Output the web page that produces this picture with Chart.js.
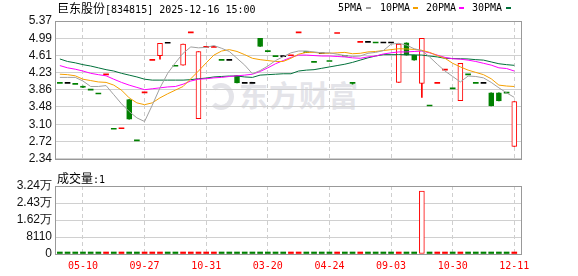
<!DOCTYPE html>
<html>
<head>
<meta charset="utf-8">
<script src="https://cdn.jsdelivr.net/npm/chart.js@4.4.1/dist/chart.umd.min.js"></script>
<style>
  body { margin: 0; background: #fff; }
  #wrap { position: relative; width: 578px; height: 276px; overflow: hidden; }
  canvas { position: absolute; left: 0; top: 0; }
  .mono { font-family: "DejaVu Sans Mono", monospace; font-size: 10px; }
  .cjk { font-family: "Noto Sans CJK SC", sans-serif; font-size: 12px; }
  .txt { position: absolute; white-space: nowrap; color: #000; line-height: 16px; }
  .sw { position: absolute; width: 5px; height: 2px; top: 7px; }
  #mark { position: absolute; left: 239px; top: 80px; font-family: "Noto Sans CJK SC", sans-serif;
          font-weight: bold; font-size: 29px; line-height: 29px; letter-spacing: 1px; color: #e4e4e9;
          white-space: nowrap; }
  #logo { position: absolute; left: 208px; top: 83px; width: 16px; height: 17px;
          border: 5px solid #e4e4e9; border-left-color: transparent; border-radius: 50%; }
</style>
</head>
<body>
<div id="wrap">
  <div id="logo"></div>
  <div id="mark">东方财富</div>
  <canvas id="main" width="578" height="170"></canvas>
  <canvas id="vol" width="578" height="276"></canvas>
  <div class="txt" style="left:57px;top:0px"><span class="cjk">巨东股份</span><span class="mono">[834815] 2025-12-16 15:00</span></div>
  <div class="txt mono" style="left:338px;top:0px">5PMA</div>
  <div class="sw" style="left:366px;background:#a0a0a0"></div>
  <div class="txt mono" style="left:380px;top:0px">10PMA</div>
  <div class="sw" style="left:413px;background:#f5a000"></div>
  <div class="txt mono" style="left:426px;top:0px">20PMA</div>
  <div class="sw" style="left:459px;background:#ff00ff"></div>
  <div class="txt mono" style="left:472px;top:0px">30PMA</div>
  <div class="sw" style="left:506px;background:#00703a"></div>
  <div class="txt" style="left:57px;top:170px"><span class="cjk">成交量</span><span class="mono">:1</span></div>
</div>
<script>
// daily candles
const open = [4.00, 4.00, 3.975, 3.94, 3.85, 3.765, 4.185, 2.99, 3.00, 3.64, 2.735, 3.79, 4.505, 4.61, 4.88, 4.375, 4.40, 5.11, 3.22, 4.79,
  4.79, 4.505, 4.505, 4.17, 4.00, 4.00, 4.99, 4.695, 4.585, 4.585, 4.605, 5.11, 4.675, 4.46, 4.65, 4.48, 5.095, 4.595, 4.00, 4.90,
  4.90, 4.886, 4.886, 4.886, 4.02, 4.89, 4.62, 4.00, 3.50, 4.00, 4.29, 3.876, 3.62, 4.185, 4.00, 4.00, 3.79, 3.79, 3.785, 2.61];
const close = [4.00, 4.00, 3.975, 3.91, 3.85, 3.765, 4.185, 2.99, 3.00, 3.21, 2.735, 3.79, 4.505, 4.88, 4.88, 4.375, 4.86, 5.11, 4.70, 4.79,
  4.79, 4.505, 4.505, 4.01, 4.00, 4.00, 4.81, 4.695, 4.585, 4.585, 4.605, 5.11, 4.675, 4.46, 4.65, 4.48, 5.095, 4.595, 4.00, 4.90,
  4.90, 4.886, 4.886, 4.886, 4.86, 4.62, 4.51, 4.99, 3.50, 4.00, 4.29, 3.876, 4.44, 4.185, 4.00, 4.00, 3.50, 3.61, 3.785, 3.60];
const high = [4.00, 4.00, 3.975, 3.94, 3.85, 3.765, 4.185, 2.99, 3.00, 3.64, 2.735, 3.79, 4.505, 4.88, 4.88, 4.375, 4.86, 5.11, 4.70, 4.79,
  4.79, 4.505, 4.505, 4.17, 4.00, 4.00, 4.99, 4.695, 4.585, 4.585, 4.605, 5.11, 4.675, 4.46, 4.65, 4.48, 5.095, 4.595, 4.02, 4.90,
  4.90, 4.886, 4.886, 4.886, 4.86, 4.89, 4.62, 4.99, 3.50, 4.00, 4.29, 3.876, 4.44, 4.185, 4.00, 4.00, 3.79, 3.79, 3.785, 3.60];
const low = [4.00, 4.00, 3.975, 3.91, 3.85, 3.765, 4.185, 2.99, 3.00, 3.21, 2.735, 3.79, 4.505, 4.53, 4.88, 4.375, 4.40, 5.11, 3.22, 4.79,
  4.79, 4.505, 4.505, 4.01, 4.00, 4.00, 4.81, 4.695, 4.585, 4.585, 4.605, 5.11, 4.675, 4.46, 4.65, 4.48, 5.095, 4.595, 3.98, 4.90,
  4.90, 4.886, 4.886, 4.886, 4.02, 4.62, 4.51, 3.69, 3.50, 4.00, 4.29, 3.876, 3.62, 4.185, 4.00, 4.00, 3.50, 3.61, 3.785, 2.61];
// u = up (red), d = down (green), f = flat (black)
const dir = ["d", "f", "d", "d", "d", "d", "u", "d", "u", "d", "d", "u", "u", "u", "f", "d", "u", "u", "u", "u",
  "u", "d", "f", "d", "f", "f", "d", "d", "d", "f", "u", "u", "d", "d", "f", "d", "u", "d", "d", "u",
  "f", "d", "f", "f", "u", "d", "d", "u", "d", "u", "u", "d", "u", "d", "d", "f", "d", "d", "d", "u"];
const volume = [1, 1, 1, 1, 1, 1, 1, 1, 1, 1, 1, 1, 1, 1, 1, 1, 1, 1, 1, 1,
  1, 1, 1, 1, 1, 1, 1, 1, 1, 1, 1, 1, 1, 1, 1, 1, 1, 1, 1, 1,
  1, 1, 1, 1, 1, 1, 1, 30050, 1, 1, 1, 1, 1, 1, 1, 1, 1, 1, 1, 1];

// moving averages as drawn
const ma5 = [4.13, 4.13, 4.13, 4.05, 3.93, 3.93, 3.95, 3.75, 3.55, 3.38, 3.24, 3.16, 3.52, 3.90, 4.22, 4.45, 4.66, 4.80, 4.78, 4.79,
  4.83, 4.77, 4.70, 4.55, 4.40, 4.21, 4.28, 4.38, 4.50, 4.585, 4.67, 4.71, 4.71, 4.69, 4.67, 4.67, 4.64, 4.61, 4.59, 4.60,
  4.66, 4.68, 4.72, 4.86, 4.88, 4.84, 4.76, 4.72, 4.58, 4.42, 4.27, 4.15, 4.03, 4.16, 4.15, 4.12, 4.02, 3.90, 3.79, 3.69];
const ma10 = [4.20, 4.19, 4.165, 4.09, 4.06, 4.03, 4.02, 3.96, 3.85, 3.68, 3.57, 3.53, 3.57, 3.68, 3.77, 3.85, 3.93, 4.10, 4.27, 4.45,
  4.62, 4.71, 4.74, 4.70, 4.63, 4.55, 4.52, 4.50, 4.48, 4.48, 4.55, 4.64, 4.68, 4.68, 4.66, 4.66, 4.67, 4.68, 4.65, 4.66,
  4.69, 4.70, 4.72, 4.74, 4.76, 4.755, 4.745, 4.725, 4.68, 4.61, 4.55, 4.44, 4.36, 4.29, 4.24, 4.19, 4.10, 3.96, 3.94, 3.93];
const ma20 = [4.39, 4.34, 4.31, 4.27, 4.22, 4.19, 4.165, 4.09, 4.02, 3.96, 3.91, 3.86, 3.88, 3.90, 3.92, 3.93, 3.98, 4.05, 4.09, 4.10,
  4.12, 4.13, 4.15, 4.165, 4.18, 4.20, 4.26, 4.34, 4.43, 4.50, 4.57, 4.62, 4.62, 4.61, 4.60, 4.60, 4.59, 4.58, 4.56, 4.55,
  4.58, 4.60, 4.645, 4.67, 4.69, 4.69, 4.70, 4.71, 4.67, 4.62, 4.57, 4.54, 4.53, 4.51, 4.48, 4.44, 4.40, 4.34, 4.325, 4.27];
const ma30 = [4.535, 4.48, 4.45, 4.41, 4.38, 4.34, 4.30, 4.27, 4.22, 4.18, 4.14, 4.09, 4.07, 4.07, 4.07, 4.07, 4.07, 4.08, 4.10, 4.115,
  4.14, 4.15, 4.16, 4.16, 4.14, 4.13, 4.18, 4.19, 4.20, 4.21, 4.21, 4.27, 4.29, 4.30, 4.33, 4.36, 4.39, 4.42, 4.46, 4.51,
  4.56, 4.60, 4.63, 4.63, 4.63, 4.63, 4.625, 4.62, 4.60, 4.58, 4.55, 4.545, 4.54, 4.535, 4.52, 4.51, 4.47, 4.43, 4.41, 4.395];

// axis ticks
const priceTicks = [2.34, 2.72, 3.10, 3.48, 3.86, 4.23, 4.61, 4.99, 5.37];
const volTicks = [0, 8110, 16220, 24330, 32440];
const volTickLabels = ["0", "8110", "1.62万", "2.43万", "3.24万"];
const xTickIdx = [3, 11, 19, 27, 35, 43, 51, 59];
const xTickLabels = ["05-10", "09-27", "10-31", "03-20", "04-24", "09-03", "10-30", "12-11"];

const RED = "#ff0000", GREEN = "#008000", BLACK = "#000000";
const idx = open.map((_, i) => i);
const dirColor = (i) => dir[i] === "u" ? RED : dir[i] === "d" ? GREEN : BLACK;

const frame = {
  id: "frame",
  afterDraw(chart) {
    const { ctx, chartArea: a } = chart;
    ctx.save();
    ctx.strokeStyle = "#999";
    ctx.lineWidth = 1;
    ctx.strokeRect(Math.round(a.left) - 0.5, Math.round(a.top) + 0.5, Math.round(a.right - a.left), Math.round(a.bottom - a.top));
    ctx.restore();
  }
};

const xScale = (showLabels) => ({
  type: "linear",
  offset: false,
  min: -0.5,
  max: 60,
  afterBuildTicks: (s) => { s.ticks = xTickIdx.map((v) => ({ value: v })); },
  grid: { color: "#cfcfcf", drawTicks: false, offset: false },
  border: { display: false, dash: [4, 3] },
  ticks: {
    display: showLabels,
    autoSkip: false,
    maxRotation: 0,
    padding: 6,
    color: RED,
    font: { family: "DejaVu Sans Mono", size: 10 },
    callback: (v) => xTickLabels[xTickIdx.indexOf(v)]
  },
  afterFit: (s) => { s.height = showLabels ? 22 : 0; }
});

const tickFont = { family: "Liberation Sans", size: 12 };

new Chart(document.getElementById("main"), {
  data: {
    labels: idx,
    datasets: [
      { type: "line", label: "5PMA", data: ma5, borderColor: "#a0a0a0", borderWidth: 1, pointRadius: 0, order: 0 },
      { type: "line", label: "10PMA", data: ma10, borderColor: "#f5a000", borderWidth: 1, pointRadius: 0, order: 0 },
      { type: "line", label: "20PMA", data: ma20, borderColor: "#ff00ff", borderWidth: 1, pointRadius: 0, order: 0 },
      { type: "line", label: "30PMA", data: ma30, borderColor: "#00703a", borderWidth: 1, pointRadius: 0, order: 0 },
      {
        type: "bar",
        label: "body",
        data: idx.map((i) => [open[i], close[i]]),
        grouped: false,
        barThickness: 5,
        minBarLength: 1,
        borderSkipped: false,
        backgroundColor: (c) => {
          const i = c.dataIndex;
          if (open[i] === close[i]) return dirColor(i);
          return close[i] > open[i] ? "#ffffff" : GREEN;
        },
        borderColor: (c) => close[c.dataIndex] > open[c.dataIndex] ? RED : GREEN,
        borderWidth: (c) => open[c.dataIndex] === close[c.dataIndex] ? 0 : 1,
        order: 1
      },
      {
        type: "bar",
        label: "wick",
        data: idx.map((i) => high[i] > low[i] ? [low[i], high[i]] : null),
        grouped: false,
        barThickness: 1,
        backgroundColor: (c) => dirColor(c.dataIndex),
        order: 2
      }
    ]
  },
  options: {
    responsive: false,
    animation: false,
    layout: { padding: { top: 21, right: 56, bottom: 5, left: 0 } },
    plugins: { legend: { display: false }, tooltip: { enabled: false } },
    scales: {
      x: xScale(false),
      y: {
        min: 2.34,
        max: 5.37,
        afterBuildTicks: (s) => { s.ticks = priceTicks.map((v) => ({ value: v })); },
        grid: { color: "#d0d0d0", drawTicks: false },
        border: { display: false },
        ticks: { autoSkip: false, padding: 4, color: "#111", font: tickFont, callback: (v) => v.toFixed(2) },
        afterFit: (s) => { s.width = 56; }
      }
    }
  },
  plugins: [frame]
});

new Chart(document.getElementById("vol"), {
  data: {
    labels: idx,
    datasets: [{
      type: "bar",
      label: "成交量",
      data: volume,
      barThickness: 5,
      minBarLength: 2,
      borderSkipped: false,
      backgroundColor: (c) => volume[c.dataIndex] > 100 ? "#ffffff" : (dir[c.dataIndex] === "u" ? RED : GREEN),
      borderColor: RED,
      borderWidth: (c) => volume[c.dataIndex] > 100 ? 1 : 0
    }]
  },
  options: {
    responsive: false,
    animation: false,
    layout: { padding: { top: 186, right: 56, bottom: 0, left: 0 } },
    plugins: { legend: { display: false }, tooltip: { enabled: false } },
    scales: {
      x: xScale(true),
      y: {
        min: 0,
        max: 32440,
        afterBuildTicks: (s) => { s.ticks = volTicks.map((v) => ({ value: v })); },
        grid: { color: "#d0d0d0", drawTicks: false },
        border: { display: false },
        ticks: { autoSkip: false, padding: 4, color: "#111", font: tickFont, callback: (v) => volTickLabels[volTicks.indexOf(v)] },
        afterFit: (s) => { s.width = 56; }
      }
    }
  },
  plugins: [frame]
});
</script>
</body>
</html>
